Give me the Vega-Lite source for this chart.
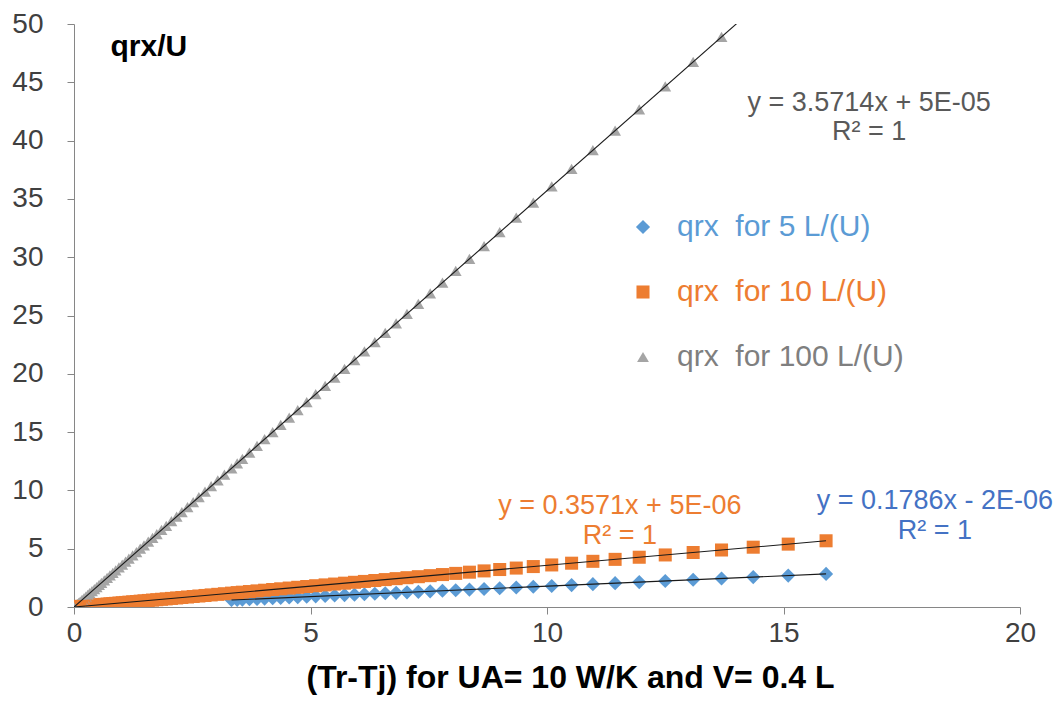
{
  "$schema": "https://vega.github.io/schema/vega-lite/v6.json",
  "width": 946,
  "height": 583,
  "autosize": {"type": "none"},
  "padding": {"left": 74, "top": 24, "right": 41, "bottom": 98},
  "background": "white",
  "config": {"view": {"stroke": null}, "font": "Liberation Sans"},
  "data": {"values": [
    {"x":15.9,"q5":2.839,"q10":5.679,"q100":56.79},
    {"x":15.1,"q5":2.696,"q10":5.393,"q100":53.93},
    {"x":14.36,"q5":2.564,"q10":5.129,"q100":51.29},
    {"x":13.69,"q5":2.445,"q10":4.889,"q100":48.89},
    {"x":13.09,"q5":2.338,"q10":4.675,"q100":46.75},
    {"x":12.5,"q5":2.232,"q10":4.464,"q100":44.64},
    {"x":11.95,"q5":2.134,"q10":4.268,"q100":42.68},
    {"x":11.44,"q5":2.043,"q10":4.086,"q100":40.86},
    {"x":10.97,"q5":1.959,"q10":3.918,"q100":39.18},
    {"x":10.52,"q5":1.879,"q10":3.757,"q100":37.57},
    {"x":10.1,"q5":1.804,"q10":3.607,"q100":36.07},
    {"x":9.71,"q5":1.734,"q10":3.468,"q100":34.68},
    {"x":9.35,"q5":1.670,"q10":3.339,"q100":33.39},
    {"x":9.0,"q5":1.607,"q10":3.214,"q100":32.14},
    {"x":8.67,"q5":1.548,"q10":3.096,"q100":30.96},
    {"x":8.36,"q5":1.493,"q10":2.986,"q100":29.86},
    {"x":8.07,"q5":1.441,"q10":2.882,"q100":28.82},
    {"x":7.79,"q5":1.391,"q10":2.782,"q100":27.82},
    {"x":7.53,"q5":1.345,"q10":2.689,"q100":26.89},
    {"x":7.28,"q5":1.300,"q10":2.600,"q100":26.00},
    {"x":7.04,"q5":1.257,"q10":2.514,"q100":25.14},
    {"x":6.81,"q5":1.216,"q10":2.432,"q100":24.32},
    {"x":6.58,"q5":1.175,"q10":2.350,"q100":23.50},
    {"x":6.36,"q5":1.136,"q10":2.271,"q100":22.71},
    {"x":6.14,"q5":1.096,"q10":2.193,"q100":21.93},
    {"x":5.93,"q5":1.059,"q10":2.118,"q100":21.18},
    {"x":5.72,"q5":1.021,"q10":2.043,"q100":20.43},
    {"x":5.51,"q5":0.984,"q10":1.968,"q100":19.68},
    {"x":5.31,"q5":0.948,"q10":1.896,"q100":18.96},
    {"x":5.11,"q5":0.913,"q10":1.825,"q100":18.25},
    {"x":4.92,"q5":0.879,"q10":1.757,"q100":17.57},
    {"x":4.73,"q5":0.845,"q10":1.689,"q100":16.89},
    {"x":4.55,"q5":0.813,"q10":1.625,"q100":16.25},
    {"x":4.37,"q5":0.780,"q10":1.561,"q100":15.61},
    {"x":4.2,"q5":0.750,"q10":1.500,"q100":15.00},
    {"x":4.03,"q5":0.720,"q10":1.439,"q100":14.39},
    {"x":3.87,"q5":0.691,"q10":1.382,"q100":13.82},
    {"x":3.71,"q5":0.663,"q10":1.325,"q100":13.25},
    {"x":3.56,"q5":0.636,"q10":1.271,"q100":12.71},
    {"x":3.45,"q5":0.616,"q10":1.232,"q100":12.32},
    {"x":3.33,"q5":0.595,"q10":1.189,"q100":11.89},
    {"x":3.18,"q10":1.136,"q100":11.36},
    {"x":3.04,"q10":1.086,"q100":10.86},
    {"x":2.9,"q10":1.036,"q100":10.36},
    {"x":2.77,"q10":0.989,"q100":9.89},
    {"x":2.64,"q10":0.943,"q100":9.43},
    {"x":2.52,"q10":0.900,"q100":9.00},
    {"x":2.4,"q10":0.857,"q100":8.57},
    {"x":2.28,"q10":0.814,"q100":8.14},
    {"x":2.17,"q10":0.775,"q100":7.75},
    {"x":2.06,"q10":0.736,"q100":7.36},
    {"x":1.95,"q10":0.696,"q100":6.96},
    {"x":1.85,"q10":0.661,"q100":6.61},
    {"x":1.75,"q10":0.625,"q100":6.25},
    {"x":1.66,"q10":0.593,"q100":5.93},
    {"x":1.57,"q10":0.561,"q100":5.61},
    {"x":1.48,"q10":0.529,"q100":5.29},
    {"x":1.4,"q10":0.500,"q100":5.00},
    {"x":1.32,"q10":0.471,"q100":4.71},
    {"x":1.24,"q10":0.443,"q100":4.43},
    {"x":1.16,"q10":0.414,"q100":4.14},
    {"x":1.09,"q10":0.389,"q100":3.89},
    {"x":1.02,"q10":0.364,"q100":3.64},
    {"x":0.95,"q10":0.339,"q100":3.39},
    {"x":0.88,"q10":0.314,"q100":3.14},
    {"x":0.82,"q10":0.293,"q100":2.93},
    {"x":0.76,"q10":0.271,"q100":2.71},
    {"x":0.7,"q10":0.250,"q100":2.50},
    {"x":0.64,"q10":0.229,"q100":2.29},
    {"x":0.58,"q10":0.207,"q100":2.07},
    {"x":0.53,"q10":0.189,"q100":1.89},
    {"x":0.48,"q10":0.171,"q100":1.71},
    {"x":0.43,"q10":0.154,"q100":1.54},
    {"x":0.38,"q10":0.136,"q100":1.36},
    {"x":0.33,"q10":0.118,"q100":1.18},
    {"x":0.29,"q10":0.104,"q100":1.04},
    {"x":0.25,"q10":0.089,"q100":0.89},
    {"x":0.21,"q10":0.075,"q100":0.75},
    {"x":0.17,"q10":0.061,"q100":0.61},
    {"x":0.13,"q10":0.046,"q100":0.46},
    {"x":0.1,"q10":0.036,"q100":0.36},
    {"x":0.07,"q10":0.025,"q100":0.25},
    {"x":0.04,"q10":0.014,"q100":0.14},
    {"x":0.02,"q10":0.007,"q100":0.07},
    {"x":0,"q10":0,"q100":0}
  ]},
  "encoding": {
    "x": {"field": "x", "type": "quantitative",
      "scale": {"domain": [0, 20], "nice": false, "zero": false},
      "axis": {"values": [0, 5, 10, 15, 20], "grid": false, "tickSize": 7, "labelPadding": 5,
        "labelFontSize": 28, "labelColor": "#404040", "domainColor": "#868686", "tickColor": "#868686",
        "labelFlush": false,
        "title": "(Tr-Tj) for UA= 10 W/K and V= 0.4 L", "titleFontSize": 32, "titleFontWeight": "bold",
        "titleColor": "#000000", "titlePadding": 15, "titleX": 496, "titleAnchor": "middle"}},
    "y": {"field": "q", "type": "quantitative",
      "scale": {"domain": [0, 50], "nice": false},
      "axis": {"values": [0, 5, 10, 15, 20, 25, 30, 35, 40, 45, 50], "grid": false, "tickSize": 7,
        "labelPadding": 24, "labelFontSize": 28, "labelColor": "#404040", "domainColor": "#868686",
        "tickColor": "#868686", "labelFlush": false,
        "title": "qrx/U", "titleAngle": 0, "titleX": 36, "titleY": 22, "titleAlign": "left",
        "titleBaseline": "middle", "titleFontSize": 30, "titleFontWeight": "bold", "titleColor": "#000000"}}
  },
  "layer": [
    {
      "transform": [
        {"fold": ["q5", "q10", "q100"], "as": ["series", "q"]},
        {"filter": "isValid(datum.q)"}
      ],
      "mark": {"type": "point", "filled": true, "opacity": 1, "clip": true},
      "encoding": {
        "color": {"field": "series", "type": "nominal",
          "scale": {"domain": ["q5", "q10", "q100"], "range": ["#5B9BD5", "#ED7D31", "#A5A5A5"]},
          "legend": {"orient": "none", "legendX": 554, "legendY": 188, "title": null, "direction": "vertical",
            "labelFontSize": 30, "labelLimit": 0, "symbolSize": 100, "rowPadding": 35, "labelOffset": 19, "padding": 0,
            "labelExpr": "datum.value == 'q5' ? 'qrx\u00a0 for 5 L/(U)' : datum.value == 'q10' ? 'qrx\u00a0 for 10 L/(U)' : 'qrx\u00a0 for 100 L/(U)'",
            "labelColor": {"expr": "datum.value == 'q5' ? '#5B9BD5' : datum.value == 'q10' ? '#ED7D31' : '#7F7F7F'"}}},
        "shape": {"field": "series", "type": "nominal",
          "scale": {"domain": ["q5", "q10", "q100"], "range": ["diamond", "square", "triangle-up"]},
          "legend": {"orient": "none", "legendX": 554, "legendY": 188, "title": null, "direction": "vertical",
            "labelFontSize": 30, "labelLimit": 0, "symbolSize": 100, "rowPadding": 35, "labelOffset": 19, "padding": 0,
            "labelExpr": "datum.value == 'q5' ? 'qrx\u00a0 for 5 L/(U)' : datum.value == 'q10' ? 'qrx\u00a0 for 10 L/(U)' : 'qrx\u00a0 for 100 L/(U)'",
            "labelColor": {"expr": "datum.value == 'q5' ? '#5B9BD5' : datum.value == 'q10' ? '#ED7D31' : '#7F7F7F'"}}},
        "size": {"field": "series", "type": "nominal",
          "scale": {"domain": ["q5", "q10", "q100"], "range": [200, 140, 150]}, "legend": null}
      }
    },
    {
      "transform": [
        {"fold": ["q5", "q10", "q100"], "as": ["series", "q"]},
        {"filter": "isValid(datum.q)"},
        {"regression": "q", "on": "x", "groupby": ["series"]}
      ],
      "mark": {"type": "line", "color": "#1a1a1a", "strokeWidth": 1.1, "clip": true},
      "encoding": {"detail": {"field": "series", "type": "nominal"}}
    },
    {
      "data": {"values": [{"tx": 16.81, "ty": 43.2, "label": "y = 3.5714x + 5E-05\nR² = 1"}]},
      "mark": {"type": "text", "color": "#595959", "fontSize": 27, "lineBreak": "\n", "lineHeight": 29, "align": "center", "baseline": "middle"},
      "encoding": {"x": {"field": "tx", "type": "quantitative"}, "y": {"field": "ty", "type": "quantitative"}, "text": {"field": "label"}}
    },
    {
      "data": {"values": [{"tx": 11.54, "ty": 8.7, "label": "y = 0.3571x + 5E-06\nR² = 1"}]},
      "mark": {"type": "text", "color": "#ED7D31", "fontSize": 27, "lineBreak": "\n", "lineHeight": 30, "align": "center", "baseline": "middle"},
      "encoding": {"x": {"field": "tx", "type": "quantitative"}, "y": {"field": "ty", "type": "quantitative"}, "text": {"field": "label"}}
    },
    {
      "data": {"values": [{"tx": 18.2, "ty": 9.05, "label": "y = 0.1786x - 2E-06\nR² = 1"}]},
      "mark": {"type": "text", "color": "#4472C4", "fontSize": 27, "lineBreak": "\n", "lineHeight": 30, "align": "center", "baseline": "middle"},
      "encoding": {"x": {"field": "tx", "type": "quantitative"}, "y": {"field": "ty", "type": "quantitative"}, "text": {"field": "label"}}
    }
  ]
}
